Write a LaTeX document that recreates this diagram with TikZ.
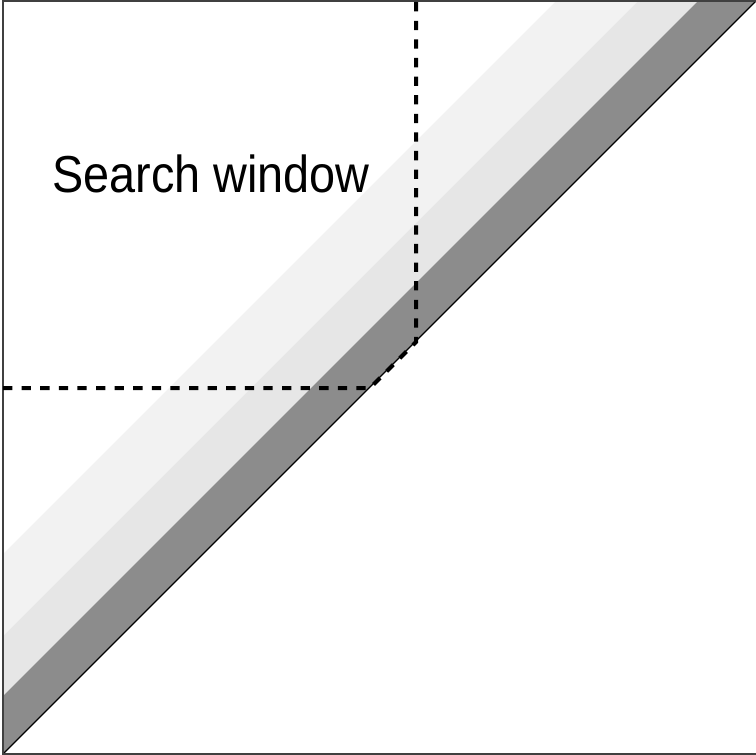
\documentclass[tikz,border=0pt]{standalone}
\usepackage{fontspec}
\setmainfont{Liberation Sans}
\usetikzlibrary{calc}
\definecolor{bandlight}{HTML}{F2F2F2}
\definecolor{bandmid}{HTML}{E6E6E6}
\definecolor{banddark}{HTML}{8C8C8C}
\begin{document}
\begin{tikzpicture}[x=1pt,y=-1pt,
    window/.style={line width=4pt, dash pattern=on 9.3pt off 9.3pt},
    frame/.style={line width=2pt, draw=black!75}]
        \useasboundingbox (0,0) rectangle (756,755);
        % Draw the bands
        \fill[bandlight] (3,636) -- (638,1) -- (556,1) -- (3,554) -- cycle;
        \fill[bandmid] (3,696) -- (698,1) -- (638,1) -- (3,636) -- cycle;
        \fill[banddark] (3,754) -- (756,1) -- (698,1) -- (3,696) -- cycle;
        %diagonal
        \coordinate (d0) at (3,754);
        \coordinate (d1) at (756,1);
        \draw[line width=1.3pt] (d0) -- (d1);
        % frame
        \draw[frame] (3,1) rectangle (762,754);
        % search window
        \coordinate (w1) at (3,388);
        \coordinate (w2) at (370,388);
        \coordinate (w3) at (416,342);
        \coordinate (w4) at (416,1);
        \draw[window] (w1) -- (w2) -- (w3) -- (w4);
        \node[anchor=base west, inner sep=0pt, font=\fontsize{52}{56}\selectfont] (sw) at (52,192) {\scalebox{0.9}[1]{Search window}};
      \end{tikzpicture}
\end{document}
